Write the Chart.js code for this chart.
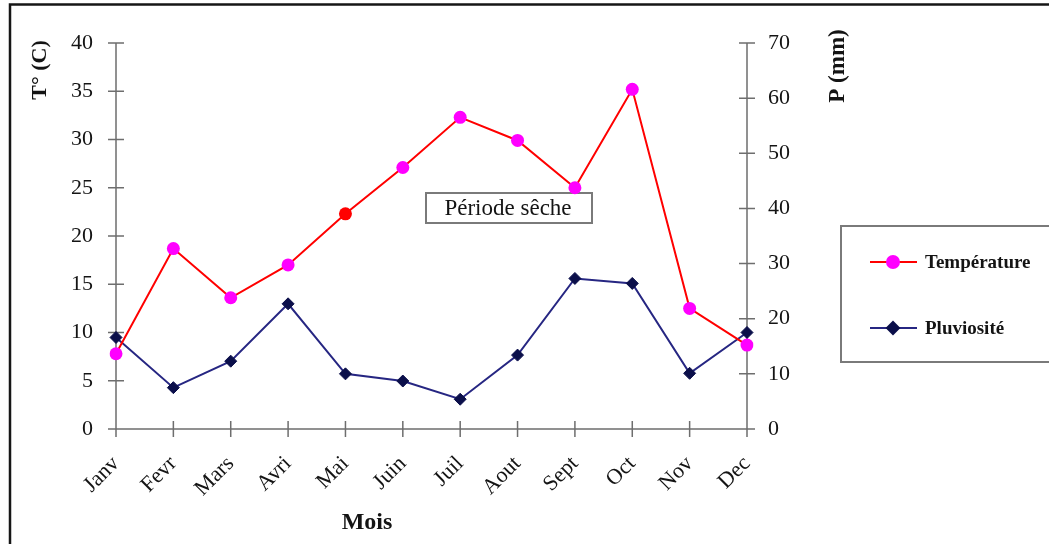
<!DOCTYPE html>
<html>
<head>
<meta charset="utf-8">
<title>Température et pluviosité</title>
<script src="https://cdn.jsdelivr.net/npm/chart.js@4.4.1/dist/chart.umd.min.js"></script>
<style>
  html, body { margin: 0; padding: 0; background: #fff; }
  #wrap { width: 1049px; height: 544px; }
</style>
</head>
<body>
<div id="wrap"><canvas id="climChart" width="1049" height="544"></canvas></div>
<script>
// Monthly temperature (°C, left axis) and rainfall (mm, right axis)
const months = ["Janv", "Fevr", "Mars", "Avri", "Mai", "Juin", "Juil", "Aout", "Sept", "Oct", "Nov", "Dec"];
const temperature = [7.8, 18.7, 13.6, 17.0, 22.3, 27.1, 32.3, 29.9, 25.0, 35.2, 12.5, 8.7];
const pluviosite = [16.6, 7.5, 12.3, 22.7, 10.0, 8.7, 5.4, 13.4, 27.3, 26.4, 10.1, 17.5];
const tempTicks = [0, 5, 10, 15, 20, 25, 30, 35, 40];
const rainTicks = [0, 10, 20, 30, 40, 50, 60, 70];

const SERIF = "'Liberation Serif', 'Times New Roman', serif";
const AXIS_COLOR = "#6e6e6e";
const TEXT_COLOR = "#141414";
const TEMP_LINE = "#ff0000";
const TEMP_DOT = "#ff00ff";
const RAIN_LINE = "#262682";
const RAIN_DOT = "#0b0f4a";

// one dot of the temperature series is drawn red in the original
const tempDotColors = months.map((m) => (m === "Mai" ? TEMP_LINE : TEMP_DOT));

const text = (ctx, str, x, y, font, rot = 0, align = "center") => {
  ctx.save();
  ctx.translate(x, y);
  ctx.rotate(rot);
  ctx.font = font;
  ctx.fillStyle = TEXT_COLOR;
  ctx.textAlign = align;
  ctx.textBaseline = "middle";
  ctx.fillText(str, 0, 0);
  ctx.restore();
};

// Axes with ticks crossing the axis line, frame and the "Période sêche" box
const axesPlugin = {
  id: "axesPlugin",
  beforeDatasetsDraw(chart) {
    const { ctx, chartArea: a, scales } = chart;
    const t = 8;
    ctx.save();

    // outer frame (only top and left edges visible)
    ctx.strokeStyle = "#161616";
    ctx.lineWidth = 2.5;
    ctx.beginPath();
    ctx.moveTo(10, 544);
    ctx.lineTo(10, 4.5);
    ctx.lineTo(1049, 4.5);
    ctx.stroke();

    ctx.strokeStyle = AXIS_COLOR;
    ctx.lineWidth = 1.5;
    ctx.beginPath();
    ctx.moveTo(a.left, a.top);
    ctx.lineTo(a.left, a.bottom);
    ctx.moveTo(a.right, a.top);
    ctx.lineTo(a.right, a.bottom);
    ctx.moveTo(a.left - t, a.bottom);
    ctx.lineTo(a.right + t, a.bottom);
    tempTicks.forEach((v) => {
      const y = scales.y.getPixelForValue(v);
      ctx.moveTo(a.left - t, y);
      ctx.lineTo(a.left + t, y);
    });
    rainTicks.forEach((v) => {
      const y = scales.y2.getPixelForValue(v);
      ctx.moveTo(a.right - t, y);
      ctx.lineTo(a.right + t, y);
    });
    months.forEach((m, i) => {
      const x = scales.x.getPixelForValue(i);
      ctx.moveTo(x, a.bottom - t);
      ctx.lineTo(x, a.bottom + t);
    });
    ctx.stroke();

    // annotation box
    ctx.fillStyle = "#fff";
    ctx.fillRect(426, 193, 166, 30);
    ctx.strokeStyle = "#7a7a7a";
    ctx.lineWidth = 2;
    ctx.strokeRect(426, 193, 166, 30);
    text(ctx, "Période sêche", 508, 209, `23px ${SERIF}`);
    ctx.restore();
  },
  afterDraw(chart) {
    const { ctx } = chart;
    ctx.save();

    // axis titles
    text(ctx, "T° (C)", 40, 70, `bold 22px ${SERIF}`, -Math.PI / 2);
    text(ctx, "P (mm)", 838, 66, `bold 23px ${SERIF}`, -Math.PI / 2);
    text(ctx, "Mois", 367, 523, `bold 24px ${SERIF}`);

    // legend box
    ctx.strokeStyle = "#7a7a7a";
    ctx.lineWidth = 2;
    ctx.strokeRect(841, 226, 215, 136);
    const items = [
      { label: "Température", y: 262, line: TEMP_LINE, dot: TEMP_DOT, style: "circle" },
      { label: "Pluviosité", y: 328, line: RAIN_LINE, dot: RAIN_DOT, style: "rectRot" },
    ];
    items.forEach((it) => {
      ctx.strokeStyle = it.line;
      ctx.lineWidth = 2;
      ctx.beginPath();
      ctx.moveTo(870, it.y);
      ctx.lineTo(917, it.y);
      ctx.stroke();
      ctx.fillStyle = it.dot;
      ctx.strokeStyle = it.dot;
      Chart.helpers.drawPoint(ctx, { pointStyle: it.style, radius: 6, borderWidth: 1 }, 893, it.y);
      text(ctx, it.label, 925, it.y + 1, `bold 19px ${SERIF}`, 0, "left");
    });
    ctx.restore();
  },
};

const ctx = document.getElementById("climChart").getContext("2d");
new Chart(ctx, {
  type: "line",
  data: {
    labels: months,
    datasets: [
      {
        label: "Température",
        data: temperature,
        yAxisID: "y",
        borderColor: TEMP_LINE,
        borderWidth: 2,
        pointStyle: "circle",
        pointRadius: 6.5,
        pointBorderWidth: 0,
        pointBackgroundColor: tempDotColors,
        pointBorderColor: tempDotColors,
        tension: 0,
      },
      {
        label: "Pluviosité",
        data: pluviosite,
        yAxisID: "y2",
        borderColor: RAIN_LINE,
        borderWidth: 2,
        pointStyle: "rectRot",
        pointRadius: 6,
        pointBorderWidth: 1,
        pointBackgroundColor: RAIN_DOT,
        pointBorderColor: RAIN_DOT,
        tension: 0,
      },
    ],
  },
  options: {
    responsive: false,
    animation: false,
    devicePixelRatio: 1,
    layout: { padding: { top: 43, left: 0, right: 0, bottom: 0 } },
    plugins: { legend: { display: false }, tooltip: { enabled: false } },
    scales: {
      x: {
        offset: false,
        grid: { display: false, drawTicks: false },
        border: { display: false },
        ticks: {
          autoSkip: false,
          minRotation: 45,
          maxRotation: 45,
          padding: 22,
          color: TEXT_COLOR,
          font: { family: SERIF, size: 22 },
        },
        afterFit: (s) => { s.height = 115; },
      },
      y: {
        position: "left",
        min: 0,
        max: 40,
        grid: { display: false, drawTicks: false },
        border: { display: false },
        ticks: { stepSize: 5, padding: 23, color: TEXT_COLOR, font: { family: SERIF, size: 22 } },
        afterFit: (s) => { s.width = 116; },
      },
      y2: {
        position: "right",
        min: 0,
        max: 70,
        grid: { display: false, drawTicks: false },
        border: { display: false },
        ticks: { stepSize: 10, padding: 21, color: TEXT_COLOR, font: { family: SERIF, size: 22 } },
        afterFit: (s) => { s.width = 302; },
      },
    },
  },
  plugins: [axesPlugin],
});
</script>
</body>
</html>
